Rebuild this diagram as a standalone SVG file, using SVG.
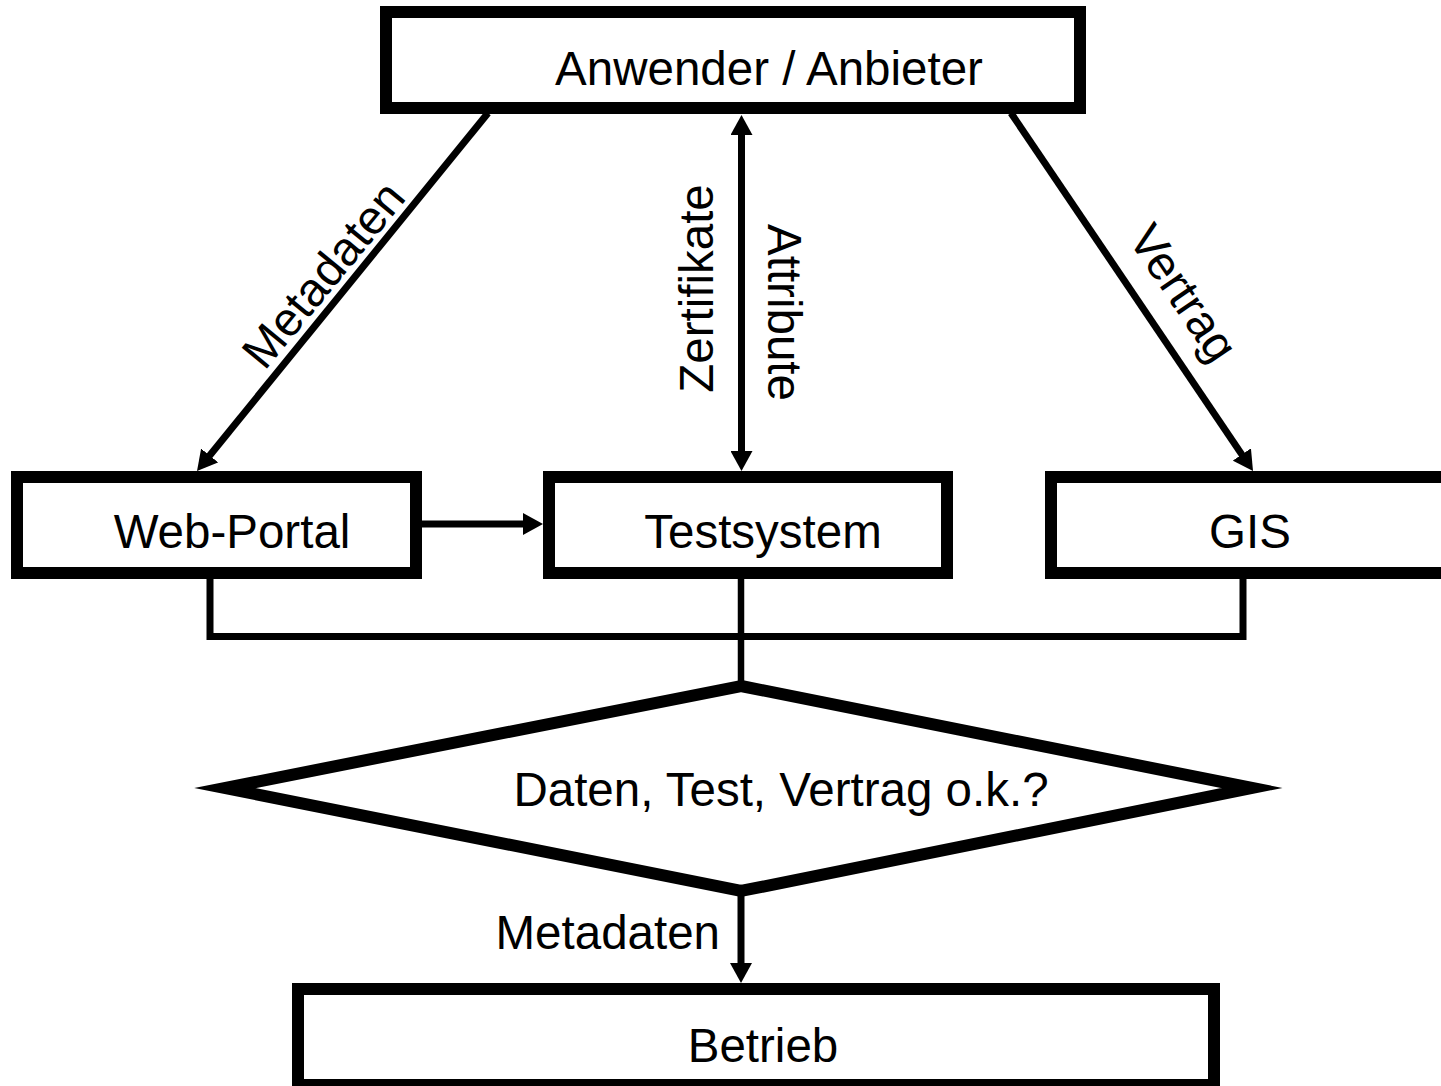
<svg xmlns="http://www.w3.org/2000/svg" width="1441" height="1086" viewBox="0 0 1441 1086">
<style>
.box{fill:#fff;stroke:#000;stroke-width:12;stroke-linejoin:miter}
.lbl{font-family:"Liberation Sans",Arial,sans-serif;font-size:47.5px;fill:#000}
.mid{text-anchor:middle}
.arr{fill:none;stroke:#000;stroke-width:7}
.con{fill:none;stroke:#000;stroke-width:6.5}
</style>
<defs>
<marker id="ah" viewBox="0 0 20 22" markerWidth="20" markerHeight="22" refX="8" refY="11" orient="auto-start-reverse" markerUnits="userSpaceOnUse">
<path d="M0,0 L20,11 L0,22 Z" fill="#000"/>
</marker>
</defs>
<rect width="1441" height="1086" fill="#fff"/>
<g id="connectors">
<line class="arr" x1="488" y1="113" x2="204.6" y2="461.7" marker-end="url(#ah)"/>
<line class="arr" x1="1011" y1="113" x2="1246.3" y2="461.1" marker-end="url(#ah)"/>
<line class="arr" x1="741.5" y1="127" x2="741.5" y2="459" marker-start="url(#ah)" marker-end="url(#ah)"/>
<line class="arr" x1="420" y1="524" x2="531" y2="524" marker-end="url(#ah)"/>
<line class="arr" x1="741" y1="893" x2="741" y2="971" marker-end="url(#ah)"/>
<polyline class="con" points="210,576 210,636.4 1243,636.4 1243,576" style="stroke-width:7"/>
<line class="con" x1="741" y1="576" x2="741" y2="684"/>
<text class="lbl mid" transform="translate(336,285) rotate(-50.5)">Metadaten</text>
<text class="lbl mid" transform="translate(713,288.5) rotate(-90)">Zertifikate</text>
<text class="lbl mid" transform="translate(768,312.5) rotate(90)">Attribute</text>
<text class="lbl mid" transform="translate(1170,302) rotate(55.8)">Vertrag</text>
<text class="lbl" x="720" y="949" text-anchor="end">Metadaten</text>
</g>
<g id="anwender">
<rect class="box" x="386" y="12" width="694" height="96"/>
<text class="lbl mid" x="769" y="85">Anwender / Anbieter</text>
</g>
<g id="webportal">
<rect class="box" x="17" y="477" width="399" height="96"/>
<text class="lbl mid" x="232" y="548">Web-Portal</text>
</g>
<g id="testsystem">
<rect class="box" x="549" y="477" width="398" height="96"/>
<text class="lbl mid" x="763" y="548">Testsystem</text>
</g>
<g id="gis">
<rect class="box" x="1051" y="477" width="420" height="96"/>
<text class="lbl mid" x="1250" y="548">GIS</text>
</g>
<g id="decision">
<polygon class="box" points="741,686 1252,788 741,891 225,788" style="stroke-width:12;stroke-miterlimit:10"/>
<text class="lbl mid" x="781" y="806">Daten, Test, Vertrag o.k.?</text>
</g>
<g id="betrieb">
<rect class="box" x="298" y="989" width="916" height="96"/>
<text class="lbl mid" x="763" y="1062">Betrieb</text>
</g>
</svg>
